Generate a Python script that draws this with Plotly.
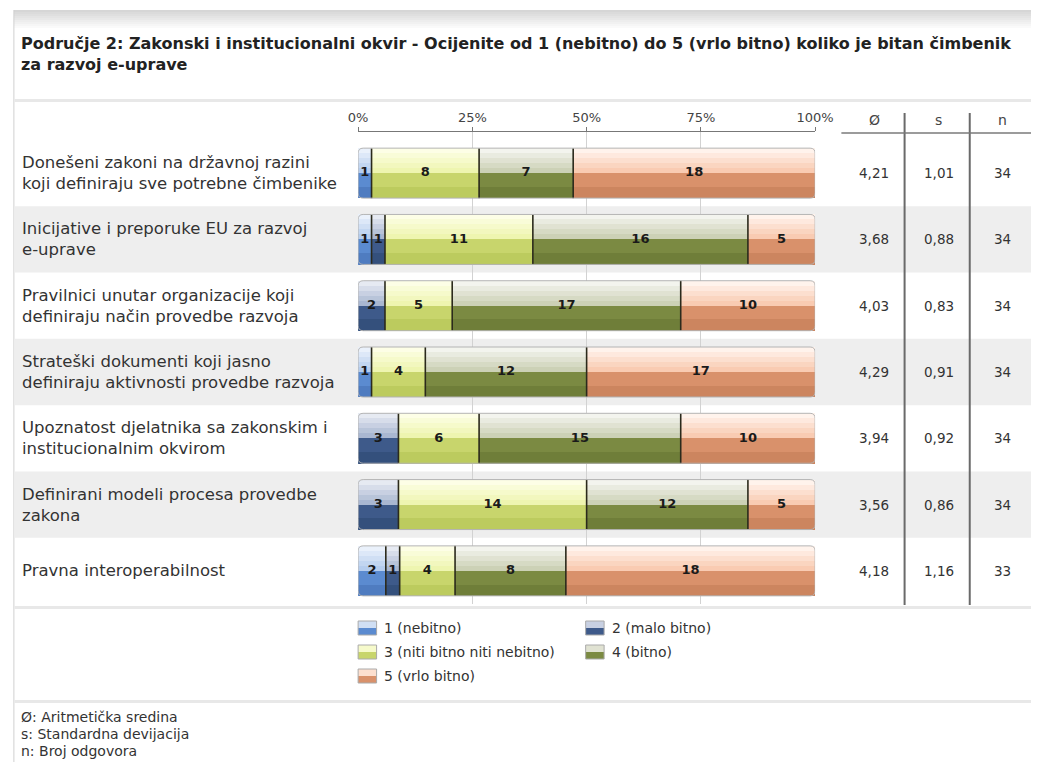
import plotly.graph_objects as go

# ---------------- data ----------------
categories = [
    "Donešeni zakoni na državnoj razini<br>koji definiraju sve potrebne čimbenike",
    "Inicijative i preporuke EU za razvoj<br>e-uprave",
    "Pravilnici unutar organizacije koji<br>definiraju način provedbe razvoja",
    "Strateški dokumenti koji jasno<br>definiraju aktivnosti provedbe razvoja",
    "Upoznatost djelatnika sa zakonskim i<br>institucionalnim okvirom",
    "Definirani modeli procesa provedbe<br>zakona",
    "Pravna interoperabilnost",
]
series_names = ["1 (nebitno)", "2 (malo bitno)", "3 (niti bitno niti nebitno)",
                "4 (bitno)", "5 (vrlo bitno)"]
counts_1 = [1, 1, 0, 1, 0, 0, 2]
counts_2 = [0, 1, 2, 0, 3, 3, 1]
counts_3 = [8, 11, 5, 4, 6, 14, 4]
counts_4 = [7, 16, 17, 12, 15, 12, 8]
counts_5 = [18, 5, 10, 17, 10, 5, 18]
mean_vals = ["4,21", "3,68", "4,03", "4,29", "3,94", "3,56", "4,18"]
std_vals = ["1,01", "0,88", "0,83", "0,91", "0,92", "0,86", "1,16"]
n_vals = [34, 34, 34, 34, 34, 34, 33]
tick_vals = [0, 25, 50, 75, 100]
tick_labels = ["0%", "25%", "50%", "75%", "100%"]
stat_headers = ["Ø", "s", "n"]
footer_lines = ["Ø: Aritmetička sredina", "s: Standardna devijacija", "n: Broj odgovora"]
title_text = ("Područje 2: Zakonski i institucionalni okvir - Ocijenite od 1 (nebitno) do 5 "
              "(vrlo bitno) koliko je bitan čimbenik<br>za razvoj e-uprave")

# ---------------- styling ----------------
W, H = 1050, 762
FONT = "DejaVu Sans, Liberation Sans, Arial, sans-serif"
palette = [  # top, mid (upper glossy half), main, bottom (lower half)
    ("#eaf1fb", "#b5cdee", "#5b8bd0", "#4f7cc0"),
    ("#e6eaf2", "#a9b7d1", "#3e5a8a", "#34507c"),
    ("#fdfee6", "#eef5b0", "#c8d56c", "#bccb5e"),
    ("#f3f4ee", "#ccd1b6", "#7b8a42", "#6f7e39"),
    ("#fff3ec", "#f9cbb2", "#d9916b", "#cc855f"),
]


def px_x(p):
    return p / W


def px_y(p):
    return 1 - p / H


def mix(c1, c2, t):
    a = [int(c1[i:i + 2], 16) for i in (1, 3, 5)]
    b = [int(c2[i:i + 2], 16) for i in (1, 3, 5)]
    return "#%02x%02x%02x" % tuple(round(a[k] + (b[k] - a[k]) * t) for k in range(3))


all_counts = [counts_1, counts_2, counts_3, counts_4, counts_5]
rows = list(range(len(categories)))
pcts = [[c[r] / n_vals[r] * 100 for r in rows] for c in all_counts]
cums = []
run = [0.0] * len(rows)
for p in pcts:
    cums.append(run[:])
    run = [run[r] + p[r] for r in rows]

fig = go.Figure()
hh = 0.377  # half bar height in row units

for k in range(5):
    top, mid, main, bottom = palette[k]
    bands = []
    nup = 5
    for j in range(nup):
        s = -hh + j * hh / nup
        bands.append((s, s + hh / nup, mix(top, mid, j / (nup - 1))))
    bands.append((0.0, hh * 0.55, main))
    bands.append((hh * 0.55, hh, bottom))
    for (s, e, col) in bands:
        fig.add_trace(go.Bar(
            orientation="h", y=rows, x=pcts[k], base=cums[k],
            width=e - s + 0.004, offset=s,
            marker=dict(color=col, line=dict(width=0)),
            showlegend=False, hoverinfo="skip",
        ))

# segment separators
sx, sy = [], []
for k in range(1, 5):
    for r in rows:
        if all_counts[k][r] > 0 and cums[k][r] > 0:
            sx += [cums[k][r], cums[k][r], None]
            sy += [r - hh, r + hh, None]
fig.add_trace(go.Scatter(x=sx, y=sy, mode="lines",
                         line=dict(color="#2b2a1c", width=1.6),
                         showlegend=False, hoverinfo="skip"))

# value labels
tx, ty, tt = [], [], []
for k in range(5):
    for r in rows:
        if all_counts[k][r] > 0:
            tx.append(cums[k][r] + pcts[k][r] / 2)
            ty.append(r)
            tt.append(str(all_counts[k][r]))
fig.add_trace(go.Scatter(
    x=tx, y=ty, text=tt, mode="text", textposition="middle center",
    textfont=dict(family=FONT, size=13, color="#1a1a1a", weight="bold"),
    showlegend=False, hoverinfo="skip"))

shapes = []
# top gradient band
for j in range(10):
    shapes.append(dict(type="rect", xref="paper", yref="paper",
                       x0=px_x(4), x1=1, y0=px_y(10 + 2 * (j + 1)), y1=px_y(10 + 2 * j),
                       fillcolor=mix("#d6d6d6", "#ffffff", j / 9), line=dict(width=0),
                       layer="below"))
# left border
shapes.append(dict(type="line", xref="paper", yref="paper", x0=px_x(4), x1=px_x(4),
                   y0=0, y1=px_y(10), line=dict(color="#d0d0d0", width=1), layer="below"))
# horizontal separators
for yy in (99, 606, 700):
    shapes.append(dict(type="rect", xref="paper", yref="paper", x0=px_x(4.5), x1=1,
                       y0=px_y(yy + 3), y1=px_y(yy), fillcolor="#e8e8e8",
                       line=dict(width=0), layer="below"))
# alternating row backgrounds
for r in rows:
    if r % 2 == 1:
        shapes.append(dict(type="rect", xref="paper", yref="y", x0=px_x(4.5), x1=1,
                           y0=r - 0.5, y1=r + 0.5, fillcolor="#eeeeee",
                           line=dict(width=0), layer="below"))
# rounded outlines of bars
rx, ry = 1.1, 0.08
for r in rows:
    y0, y1 = r - hh, r + hh
    path = (f"M {rx},{y0} L {100 - rx},{y0} Q 100,{y0} 100,{y0 + ry} "
            f"L 100,{y1 - ry} Q 100,{y1} {100 - rx},{y1} L {rx},{y1} "
            f"Q 0,{y1} 0,{y1 - ry} L 0,{y0 + ry} Q 0,{y0} {rx},{y0} Z")
    shapes.append(dict(type="path", xref="x", yref="y", path=path,
                       line=dict(color="#b4b4b4", width=1), layer="above"))
# stats column lines
for xx in (920, 987):
    shapes.append(dict(type="line", xref="paper", yref="paper", x0=px_x(xx), x1=px_x(xx),
                       y0=px_y(605), y1=px_y(113), line=dict(color="#6a6a6a", width=2)))
shapes.append(dict(type="line", xref="paper", yref="paper", x0=px_x(855), x1=1,
                   y0=px_y(133), y1=px_y(133), line=dict(color="#7a7a7a", width=1.5)))

annotations = []
annotations.append(dict(text="<b>" + title_text + "</b>", xref="paper", yref="paper",
                        x=px_x(9), y=px_y(54), xanchor="left", yanchor="middle", align="left",
                        showarrow=False, font=dict(family=FONT, size=16, color="#222")))
for r, lab in enumerate(categories):
    annotations.append(dict(text=lab, xref="paper", yref="y", x=px_x(10), y=r,
                            xanchor="left", yanchor="middle", align="left", showarrow=False,
                            font=dict(family=FONT, size=16.5, color="#333")))
stat_x = [889, 955, 1021]
for h, xx in zip(stat_headers, stat_x):
    annotations.append(dict(text=h, xref="paper", yref="paper", x=px_x(xx), y=px_y(120),
                            xanchor="center", yanchor="middle", showarrow=False,
                            font=dict(family=FONT, size=14, color="#444")))
for r in rows:
    for val, xx in zip((mean_vals[r], std_vals[r], str(n_vals[r])), stat_x):
        annotations.append(dict(text=val, xref="paper", yref="y", x=px_x(xx), y=r,
                                xanchor="center", yanchor="middle", showarrow=False,
                                font=dict(family=FONT, size=13.5, color="#333")))
# manual legend
leg_pos = [(358, 628), (592, 628), (358, 652), (592, 652), (358, 676)]
for k, (lx, ly) in enumerate(leg_pos):
    top, mid, main, bottom = palette[k]
    shapes.append(dict(type="rect", xref="paper", yref="paper", x0=px_x(lx), x1=px_x(lx + 19),
                       y0=px_y(ly), y1=px_y(ly - 7), fillcolor=mix(top, mid, 0.5),
                       line=dict(width=0)))
    shapes.append(dict(type="rect", xref="paper", yref="paper", x0=px_x(lx), x1=px_x(lx + 19),
                       y0=px_y(ly + 7), y1=px_y(ly), fillcolor=main, line=dict(width=0)))
    shapes.append(dict(type="rect", xref="paper", yref="paper", x0=px_x(lx), x1=px_x(lx + 19),
                       y0=px_y(ly + 7), y1=px_y(ly - 7), line=dict(color="#aaaaaa", width=1)))
    annotations.append(dict(text=series_names[k], xref="paper", yref="paper",
                            x=px_x(lx + 25), y=px_y(ly), xanchor="left", yanchor="middle",
                            showarrow=False, font=dict(family=FONT, size=14, color="#333")))
# footer (kept fully inside the page)
for j, line in enumerate(footer_lines):
    annotations.append(dict(text=line, xref="paper", yref="paper", x=px_x(9),
                            y=px_y(717 + 17 * j), xanchor="left", yanchor="middle",
                            showarrow=False, font=dict(family=FONT, size=14, color="#333")))

fig.update_layout(
    width=W, height=H, margin=dict(l=0, r=0, t=0, b=0), autosize=False,
    paper_bgcolor="#ffffff", plot_bgcolor="rgba(0,0,0,0)",
    barmode="overlay", bargap=0, showlegend=False,
    font=dict(family=FONT),
    xaxis=dict(domain=[px_x(358), px_x(828)], range=[0, 100], side="top",
               tickvals=tick_vals, ticktext=tick_labels, showgrid=True,
               gridcolor="#d2d2d2", gridwidth=1, showline=True, linecolor="#777",
               linewidth=1, ticks="outside", ticklen=4, tickcolor="#777",
               tickfont=dict(family=FONT, size=13, color="#444"), zeroline=False,
               fixedrange=True),
    yaxis=dict(domain=[px_y(604), px_y(132)], range=[6.5, -0.5 - 8 / 66.3],
               visible=False, fixedrange=True),
    shapes=shapes, annotations=annotations,
)

fig.write_html("out.html", config={"displayModeBar": False},
               post_script="document.body.style.margin='0';document.body.style.overflow='hidden';"
                           "document.documentElement.style.overflow='hidden';")
